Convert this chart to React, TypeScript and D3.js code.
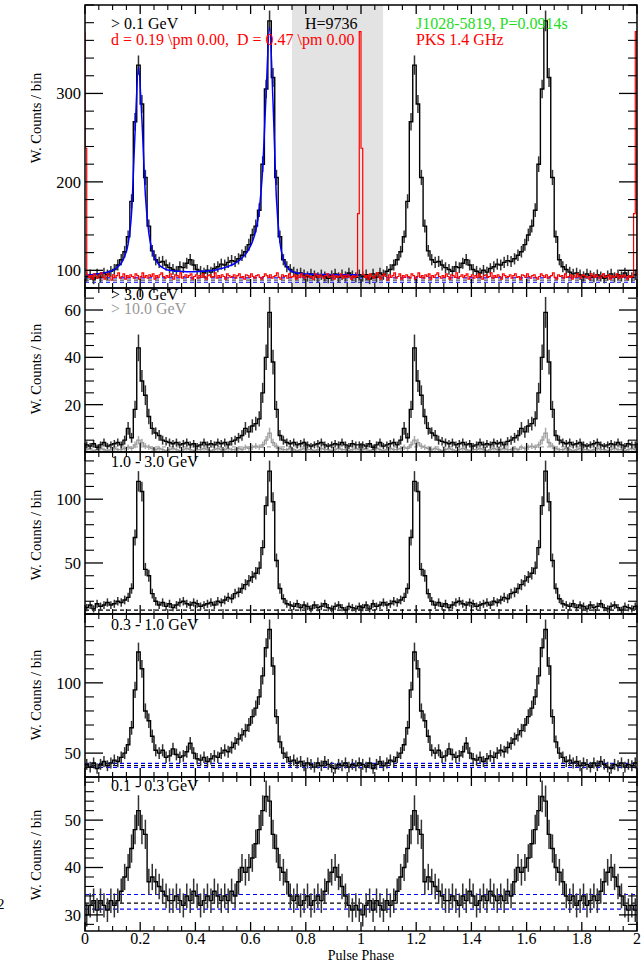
import React from 'react';
import * as d3 from 'd3';

// ---------------- DATA ----------------
// 80 phase bins per rotation (bin width 0.0125), shown over two rotations
const countsAbove01 = [
  93, 95, 90, 96, 92, 97, 95, 99, 101, 106,
  112, 121, 138, 178, 268, 332, 288, 205, 150, 122,
  112, 109, 110, 106, 103, 101, 99, 104, 103, 108,
  112, 106, 101, 99, 97, 100, 98, 102, 104, 107,
  106, 109, 111, 110, 113, 117, 121, 129, 140, 150,
  168, 220, 305, 382, 318, 205, 138, 112, 104, 101,
  98, 96, 97, 95, 93, 96, 94, 92, 95, 93,
  91, 94, 96, 92, 95, 93, 97, 94, 92, 95,
];
const modelAbove01 = [
  95, 95, 95.5, 96, 96.5, 97, 98, 99, 101, 104,
  108, 116, 130, 165, 255, 330, 270, 185, 142, 122,
  112, 106, 103, 101, 100, 99.5, 99, 98.8, 98.6, 98.5,
  98.5, 98.5, 98.6, 98.8, 99, 99.3, 99.7, 100.2, 101, 102,
  103, 104.5, 106, 108, 110.5, 114, 118, 124, 132, 145,
  168, 215, 300, 375, 290, 180, 132, 112, 104, 100,
  98, 97, 96.5, 96, 95.8, 95.6, 95.5, 95.4, 95.3, 95.2,
  95.2, 95.1, 95.1, 95, 95, 95, 95, 95, 95, 95,
];
// radio profile, 160 bins per rotation
const radioPKS = [
  238, 95, 92, 94, 90, 96, 93, 91, 95, 97,
  92, 90, 94, 96, 93, 89, 95, 92, 94, 97,
  91, 93, 96, 90, 94, 92, 95, 93, 91, 96,
  94, 90, 93, 97, 92, 94, 91, 95, 93, 96,
  90, 94, 92, 95, 97, 93, 91, 94, 92, 96,
  93, 90, 95, 94, 92, 97, 91, 93, 95, 92,
  94, 96, 90, 93, 95, 91, 94, 92, 96, 93,
  90, 94, 95, 92, 93, 97, 91, 94, 92, 95,
  93, 90, 96, 94, 92, 93, 95, 91, 94, 96,
  92, 93, 90, 95, 94, 92, 96, 93, 91, 94,
  95, 92, 90, 93, 96, 94, 92, 95, 91, 93,
  94, 97, 92, 90, 95, 93, 94, 91, 96, 92,
  93, 95, 90, 94, 92, 96, 93, 91, 95, 94,
  92, 93, 90, 96, 94, 92, 95, 93, 91, 94,
  96, 92, 93, 95, 90, 94, 92, 93, 96, 91,
  94, 92, 95, 93, 90, 94, 92, 93, 164, 370,
];
const countsAbove3 = [
  3, 2.5, 3.5, 2, 3, 4, 2.5, 3, 3.5, 4,
  3, 5, 10, 6, 18, 44, 30, 24, 15, 10,
  8, 7, 5, 4.5, 4, 3.5, 4, 3, 3.5, 4,
  3, 3.5, 2.5, 3, 4, 3, 3.5, 3, 4, 3.5,
  4, 3, 4.5, 5, 6, 7, 10, 8.5, 11, 12,
  14, 25, 40, 59, 38, 18, 7, 5, 4, 3.5,
  4, 3, 3.5, 4, 3, 2.5, 3, 3.5, 4, 3,
  2.5, 3, 3.5, 3, 4, 3, 2.5, 3.5, 3, 3,
];
const countsAbove10 = [
  1, 1.5, 0.5, 1, 1.5, 1, 0.5, 1, 1.5, 1,
  1, 1.5, 2, 1.5, 3, 5, 4, 2.5, 2, 1.5,
  1, 1.5, 1, 0.5, 1, 1.5, 1, 0.5, 1, 1.5,
  1, 0.5, 1, 1, 1.5, 1, 0.5, 1, 1.5, 1,
  1, 1.5, 1, 1, 1.5, 1, 2, 1.5, 2, 2.5,
  2, 3, 5, 8, 4, 2.5, 1.5, 1, 1, 1.5,
  1, 0.5, 1, 1.5, 1, 1, 0.5, 1, 1.5, 1,
  1, 0.5, 1, 1.5, 1, 1, 0.5, 1, 1.5, 1,
];
const counts1to3 = [
  15, 17, 14, 18, 16, 17, 19, 17, 18, 20,
  19, 21, 23, 30, 70, 114, 106, 45, 40, 26,
  20, 17, 19, 16, 18, 15, 17, 19, 20, 18,
  17, 19, 18, 16, 17, 18, 19, 17, 20, 19,
  21, 23, 22, 26, 27, 30, 33, 36, 39, 42,
  46, 62, 95, 122, 98, 52, 30, 22, 18, 17,
  16, 18, 15, 17, 16, 14, 17, 15, 16, 18,
  15, 14, 16, 17, 15, 13, 16, 15, 14, 16,
];
const counts03to1 = [
  42, 40, 43, 39, 42, 44, 41, 43, 45, 44,
  47, 50, 56, 68, 95, 122, 110, 80, 73, 62,
  52, 50, 52, 47, 48, 53, 49, 47, 48, 51,
  57, 50, 46, 45, 47, 44, 46, 48, 47, 50,
  52, 51, 54, 57, 60, 63, 66, 70, 76, 82,
  90, 105, 125, 138, 112, 76, 58, 50, 47, 44,
  45, 43, 44, 41, 43, 42, 40, 43, 41, 44,
  42, 40, 39, 42, 41, 43, 40, 42, 41, 43,
];
const counts01to03 = [
  30, 32, 33, 31, 33, 32, 31, 33, 32, 33,
  35, 38, 40, 44, 48, 52, 48, 47, 37, 38,
  37, 36, 35, 34, 33, 33, 34, 33, 32, 34,
  33, 35, 34, 32, 33, 34, 33, 35, 34, 33,
  34, 33, 35, 34, 37, 40, 39, 40, 42, 45,
  48, 52, 55, 54, 47, 44, 40, 39, 37, 34,
  33, 34, 32, 33, 34, 32, 33, 34, 33, 35,
  37, 39, 40, 38, 36, 34, 32, 31, 32, 31,
];

const phaseTicks = [0, 0.2, 0.4, 0.6, 0.8, 1, 1.2, 1.4, 1.6, 1.8, 2];
const phaseTickLabels = ['0', '0.2', '0.4', '0.6', '0.8', '1', '1.2', '1.4', '1.6', '1.8', '2'];

const offPulse = [0.75, 1.08];
const bg1 = { mid: 89, lo: 86.5, hi: 91.5 };
const bg3 = 13;
const bg4 = { mid: 41.2, lo: 39.8, hi: 42.7 };
const bg5 = { mid: 32.5, lo: 31.2, hi: 34.3 };

// ---------------- LAYOUT ----------------
const W = 641;
const H = 963;
const X0 = 85;
const X1 = 637;
const FONT = "'Liberation Serif', 'Times New Roman', serif";

type Series = { vals: number[]; color: string; err: number; errColor: string; width: number };
type Panel = {
  top: number;
  bottom: number;
  domain: [number, number];
  major: number[];
  minorStep: number;
  ylabelY: number;
  series: Series[];
  labels: { text: string; color: string; dx: number; dy: number }[];
};

const panels: Panel[] = [
  {
    top: 5, bottom: 288, domain: [80, 400], major: [100, 200, 300], minorStep: 20, ylabelY: 118,
    series: [{ vals: countsAbove01, color: '#000', err: 0.6, errColor: '#333', width: 1.4 }],
    labels: [
      { text: '> 0.1 GeV', color: '#000', dx: 111, dy: 29 },
      { text: 'd = 0.19 \\pm 0.00,  D = 0.47 \\pm 0.00', color: '#ff0000', dx: 111, dy: 45 },
      { text: 'H=9736', color: '#000', dx: 305, dy: 29 },
      { text: 'J1028-5819, P=0.0914s', color: '#22dd22', dx: 416, dy: 29 },
      { text: 'PKS 1.4 GHz', color: '#ff0000', dx: 416, dy: 45 },
    ],
  },
  {
    top: 288, bottom: 452, domain: [0, 69.3], major: [20, 40, 60], minorStep: 5, ylabelY: 369,
    series: [
      { vals: countsAbove3, color: '#000', err: 0.85, errColor: '#333', width: 1.4 },
      { vals: countsAbove10, color: '#999', err: 0.8, errColor: '#aaa', width: 1.2 },
    ],
    labels: [
      { text: '> 3.0 GeV', color: '#000', dx: 111, dy: 300 },
      { text: '> 10.0 GeV', color: '#999', dx: 111, dy: 314 },
    ],
  },
  {
    top: 452, bottom: 614, domain: [10, 137], major: [50, 100], minorStep: 10, ylabelY: 535,
    series: [{ vals: counts1to3, color: '#000', err: 0.75, errColor: '#333', width: 1.4 }],
    labels: [{ text: '1.0 - 3.0 GeV', color: '#000', dx: 111, dy: 467 }],
  },
  {
    top: 614, bottom: 777, domain: [33, 149], major: [50, 100], minorStep: 10, ylabelY: 695,
    series: [{ vals: counts03to1, color: '#000', err: 0.6, errColor: '#333', width: 1.4 }],
    labels: [{ text: '0.3 - 1.0 GeV', color: '#000', dx: 111, dy: 630 }],
  },
  {
    top: 777, bottom: 931, domain: [26.6, 59.1], major: [30, 40, 50], minorStep: 2, ylabelY: 855,
    series: [{ vals: counts01to03, color: '#000', err: 0.45, errColor: '#333', width: 1.4 }],
    labels: [{ text: '0.1 - 0.3 GeV', color: '#000', dx: 111, dy: 791 }],
  },
];

const x = d3.scaleLinear().domain([0, 2]).range([X0, X1]);

function stepPoints(vals: number[]): [number, number][] {
  const n = vals.length;
  const pts: [number, number][] = [];
  for (let c = 0; c < 2; c++) vals.forEach((v, i) => pts.push([c + i / n, v]));
  pts.push([2, vals[n - 1]]);
  return pts;
}

function PanelView({ p, idx }: { p: Panel; idx: number }) {
  const y = d3.scaleLinear().domain(p.domain).range([p.bottom, p.top]);
  const line = d3
    .line<[number, number]>()
    .x((d) => x(d[0]))
    .y((d) => y(d[1]))
    .curve(d3.curveStepAfter);
  const clipId = `clip${idx}`;
  const minors: number[] = [];
  const start = Math.ceil(p.domain[0] / p.minorStep) * p.minorStep;
  for (let v = start; v <= p.domain[1] + 1e-9; v += p.minorStep) {
    if (!p.major.some((m) => Math.abs(m - v) < 1e-9)) minors.push(v);
  }
  const xMinor: number[] = [];
  for (let k = 0; k <= 40; k++) {
    const v = k * 0.05;
    if (k % 4 !== 0) xMinor.push(v);
  }
  const dashLine = (v: number, color: string, key: string) => (
    <line key={key} x1={X0} x2={X1} y1={y(v)} y2={y(v)} stroke={color} strokeWidth={1.2} strokeDasharray="4,3" />
  );

  return (
    <g>
      <defs>
        <clipPath id={clipId}>
          <rect x={X0} y={p.top} width={X1 - X0} height={p.bottom - p.top} />
        </clipPath>
      </defs>
      <g clipPath={`url(#${clipId})`}>
        {idx === 0 && (
          <rect
            x={x(offPulse[0])}
            y={p.top}
            width={x(offPulse[1]) - x(offPulse[0])}
            height={p.bottom - p.top}
            fill="#e3e3e3"
          />
        )}
        {idx === 0 && [dashLine(bg1.hi, '#0000ff', 'a'), dashLine(bg1.mid, '#555', 'b'), dashLine(bg1.lo, '#0000ff', 'c')]}
        {idx === 1 && dashLine(2.2, '#aaa', 'g')}
        {idx === 2 && dashLine(bg3, '#000', 'd')}
        {idx === 3 && [dashLine(bg4.hi, '#0000ff', 'a'), dashLine(bg4.mid, '#000', 'b'), dashLine(bg4.lo, '#0000ff', 'c')]}
        {idx === 4 && [dashLine(bg5.hi, '#0000ff', 'a'), dashLine(bg5.mid, '#000', 'b'), dashLine(bg5.lo, '#0000ff', 'c')]}
        {p.series
          .slice()
          .reverse()
          .map((s, si) => {
            const n = s.vals.length;
            const errs: React.ReactNode[] = [];
            for (let c = 0; c < 2; c++)
              s.vals.forEach((v, i) => {
                const cx = x(c + (i + 0.5) / n);
                const e = s.err * Math.sqrt(Math.max(v, 0.5));
                errs.push(
                  <line key={`${c}-${i}`} x1={cx} x2={cx} y1={y(v - e)} y2={y(v + e)} stroke={s.errColor} strokeWidth={1.5} />
                );
              });
            return (
              <g key={si}>
                {errs}
                <path d={line(stepPoints(s.vals)) || ''} fill="none" stroke={s.color} strokeWidth={s.width} />
              </g>
            );
          })}
        {idx === 0 && (
          <path
            d={
              d3
                .line<number>()
                .x((_, i) => x((i + 0.5) / modelAbove01.length))
                .y((d) => y(d))
                .curve(d3.curveMonotoneX)(modelAbove01) || ''
            }
            fill="none"
            stroke="#0000ff"
            strokeWidth={1.5}
          />
        )}
        {idx === 0 && (
          <path
            d={
              line([[0, radioPKS[radioPKS.length - 1]] as [number, number], ...stepPoints(radioPKS), [2, radioPKS[1]] as [number, number]]) || ''
            }
            fill="none"
            stroke="#ff0000"
            strokeWidth={1.2}
          />
        )}
      </g>
      {/* frame */}
      <rect x={X0} y={p.top} width={X1 - X0} height={p.bottom - p.top} fill="none" stroke="#000" strokeWidth={1.5} />
      {/* y ticks */}
      {p.major.map((v) => (
        <g key={`M${v}`}>
          <line x1={X0} x2={X0 + 18} y1={y(v)} y2={y(v)} stroke="#000" strokeWidth={1.3} />
          <line x1={X1} x2={X1 - 18} y1={y(v)} y2={y(v)} stroke="#000" strokeWidth={1.3} />
          <text x={81} y={y(v)} dy="0.36em" textAnchor="end" fontFamily={FONT} fontSize={16.5} fill="#000">
            {v}
          </text>
        </g>
      ))}
      {minors.map((v) => (
        <g key={`m${v}`}>
          <line x1={X0} x2={X0 + 9} y1={y(v)} y2={y(v)} stroke="#000" strokeWidth={1.1} />
          <line x1={X1} x2={X1 - 9} y1={y(v)} y2={y(v)} stroke="#000" strokeWidth={1.1} />
        </g>
      ))}
      {/* x ticks */}
      {phaseTicks.map((v) => (
        <g key={`X${v}`}>
          <line x1={x(v)} x2={x(v)} y1={p.top} y2={p.top + 9} stroke="#000" strokeWidth={1.3} />
          <line x1={x(v)} x2={x(v)} y1={p.bottom} y2={p.bottom - 9} stroke="#000" strokeWidth={1.3} />
        </g>
      ))}
      {xMinor.map((v) => (
        <g key={`x${v}`}>
          <line x1={x(v)} x2={x(v)} y1={p.top} y2={p.top + 5} stroke="#000" strokeWidth={1.1} />
          <line x1={x(v)} x2={x(v)} y1={p.bottom} y2={p.bottom - 5} stroke="#000" strokeWidth={1.1} />
        </g>
      ))}
      <text
        transform={`translate(36, ${p.ylabelY}) rotate(-90)`}
        textAnchor="middle"
        dy="0.35em"
        fontFamily={FONT}
        fontSize={14.5}
        fill="#000"
      >
        W. Counts / bin
      </text>
      {p.labels.map((l, i) => (
        <text key={i} x={l.dx} y={l.dy} fontFamily={FONT} fontSize={16} fill={l.color} style={{ whiteSpace: 'pre' }}>
          {l.text}
        </text>
      ))}
    </g>
  );
}

export default function App() {
  const last = panels[panels.length - 1];
  return (
    <svg width={W} height={H} style={{ position: 'absolute', left: 0, top: 0, background: '#fff' }}>
      <rect x={0} y={0} width={W} height={H} fill="#fff" />
      {panels.map((p, i) => (
        <PanelView key={i} p={p} idx={i} />
      ))}
      {phaseTicks.map((v, i) => (
        <text key={v} x={x(v)} y={last.bottom + 12.5} textAnchor="middle" fontFamily={FONT} fontSize={16} fill="#000">
          {phaseTickLabels[i]}
        </text>
      ))}
      <text x={(X0 + X1) / 2} y={last.bottom + 29} textAnchor="middle" fontFamily={FONT} fontSize={14} fill="#000">
        Pulse Phase
      </text>
      <text x={-3} y={909} fontFamily={FONT} fontSize={15} fill="#000">
        2
      </text>
    </svg>
  );
}
